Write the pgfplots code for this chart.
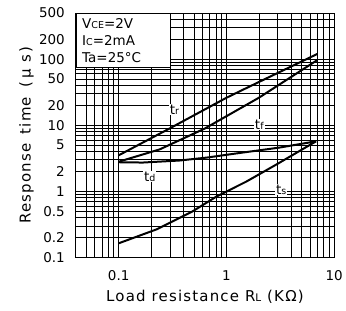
\documentclass[border=0pt]{standalone}
\usepackage{fontspec}
\setmainfont{DejaVu Sans}
\newfontfamily\spaced[LetterSpace=8]{DejaVu Sans}
\usepackage{pgfplots}
\pgfplotsset{compat=1.18}
\newcommand{\sm}[1]{{\fontsize{9.5}{9.5}\selectfont #1}}
\newcommand{\smx}[1]{{\fontsize{10.5}{10.5}\selectfont #1}}
\begin{document}
\begin{tikzpicture}
\begin{axis}[
  scale only axis, width=259pt, height=245pt,
  xmode=log, ymode=log,
  xmin=0.04, xmax=10, ymin=0.1, ymax=500,
  xtick={0.1,1,10}, xticklabels={0.1,1,10},
  ytick={0.1,0.2,0.5,1,2,5,10,20,50,100,200,500},
  yticklabels={0.1,0.2,0.5,1,2,5,10,20,50,100,200,500},
  minor xtick={0.05,0.06,0.07,0.08,0.09,0.2,0.3,0.4,0.5,0.6,0.7,0.8,0.9,2,3,4,5,6,7,8,9},
  minor ytick={0.3,0.4,0.6,0.7,0.8,0.9,3,4,6,7,8,9,30,40,60,70,80,90,300,400},
  grid=both,
  major grid style={black, line width=0.6pt},
  minor grid style={black, line width=0.6pt},
  major tick length=0pt, minor tick length=0pt,
  axis line style={black, line width=0.9pt},
  tick label style={font=\fontsize{13.5}{15}\selectfont},
  yticklabel style={xshift=-7.5pt},
  xticklabel style={yshift=-9.5pt},
  /pgf/number format/assume math mode=true,
  xlabel={Load resistance R\smx{L} (KΩ)},
  ylabel={Response\hspace{9pt}time\hspace{9pt}(\hspace{4pt}μ\hspace{6pt}s\hspace{2pt})},
  label style={font=\spaced\fontsize{15}{17}\selectfont},
  xlabel style={at={(axis description cs:0.5,-0.1796)}, anchor=base},
  ylabel style={at={(axis description cs:-0.191,0.5)}, anchor=center},
  clip=false,
]
% t_r
\addplot[black, line width=2pt] coordinates {(0.1,3.5) (0.3,9.0) (1.0,26) (2.0,45) (7.0,120)};
% t_f
\addplot[black, line width=2pt] coordinates {(0.1,2.8) (0.24,4.3) (0.63,8.9) (2.0,26) (7.0,97)};
% t_d
\addplot[black, line width=2pt] coordinates {(0.1,2.75) (0.167,2.72) (0.367,2.92) (0.653,3.23) (1.41,3.85) (3.1,4.58) (6.8,5.7)};
% t_s
\addplot[black, line width=2pt] coordinates {(0.1,0.163) (0.225,0.265) (0.484,0.495) (0.807,0.83) (1.53,1.40) (2.9,2.53) (6.8,5.7)};
\node[fill=white, inner sep=1pt, font=\fontsize{13.5}{15}\selectfont] at (axis cs:0.33,17.2) {t\sm{r}};
\node[fill=white, inner sep=1pt, font=\fontsize{13.5}{15}\selectfont] at (axis cs:2.02,10.2) {t\sm{f}};
\node[fill=white, inner sep=1pt, font=\fontsize{13.5}{15}\selectfont] at (axis cs:0.194,1.67) {t\sm{d}};
\node[fill=white, inner sep=1pt, font=\fontsize{13.5}{15}\selectfont] at (axis cs:3.23,1.06) {t\sm{s}};
\node[draw=black, line width=0.9pt, fill=white, anchor=north west, inner xsep=6pt, inner ysep=3pt,
      text width=82pt, minimum height=54pt, align=left, font=\fontsize{13.5}{17}\selectfont]
  at (rel axis cs:0,1) {V\sm{CE}=2V\\I\sm{C}=2mA\\Ta=25°C};
\end{axis}
\path ([shift={(-76pt,-53pt)}]current axis.south west) rectangle ([shift={(11pt,13pt)}]current axis.north east);
\end{tikzpicture}
\end{document}
